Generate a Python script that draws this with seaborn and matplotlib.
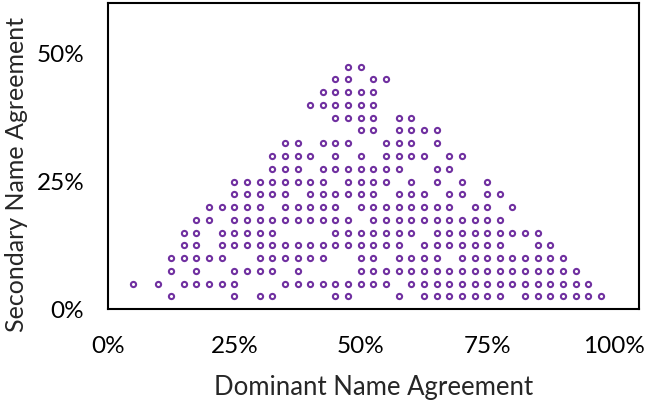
import pandas as pd
import numpy as np
import matplotlib.pyplot as plt
import seaborn as sns
from matplotlib.ticker import PercentFormatter

# dominant name agreement (%) for each secondary agreement level (%)
sec_2_5 = [12.5, 25, 30, 32.5, 45, 47.5, 57.5, 62.5, 65, 67.5, 70, 72.5, 75, 77.5, 82.5, 85, 87.5, 90, 92.5, 95, 97.5]
sec_5_0 = [5, 10, 15, 17.5, 20, 22.5, 25, 35, 37.5, 40, 42.5, 45, 47.5, 50, 52.5, 55, 60, 62.5, 65, 67.5, 70, 72.5, 75, 77.5, 80, 82.5, 85, 87.5, 90, 92.5, 95]
sec_7_5 = [12.5, 17.5, 25, 27.5, 30, 32.5, 37.5, 50, 52.5, 55, 57.5, 60, 62.5, 65, 67.5, 70, 72.5, 75, 77.5, 80, 82.5, 85, 87.5, 90, 92.5]
sec_10_0 = [12.5, 15, 17.5, 20, 22.5, 30, 32.5, 35, 37.5, 40, 42.5, 50, 52.5, 57.5, 60, 62.5, 65, 70, 72.5, 75, 77.5, 80, 82.5, 85, 87.5, 90]
sec_12_5 = [15, 17.5, 22.5, 25, 27.5, 30, 32.5, 35, 37.5, 40, 42.5, 45, 47.5, 50, 52.5, 55, 57.5, 62.5, 65, 67.5, 70, 72.5, 75, 77.5, 85, 87.5]
sec_15_0 = [15, 17.5, 22.5, 25, 27.5, 30, 32.5, 45, 47.5, 50, 52.5, 55, 57.5, 60, 65, 67.5, 70, 72.5, 75, 77.5, 80, 82.5, 85]
sec_17_5 = [17.5, 20, 25, 27.5, 30, 32.5, 35, 37.5, 40, 42.5, 45, 47.5, 52.5, 55, 57.5, 60, 62.5, 65, 67.5, 70, 72.5, 75, 77.5]
sec_20_0 = [20, 22.5, 25, 27.5, 30, 35, 37.5, 40, 42.5, 45, 50, 52.5, 55, 57.5, 60, 62.5, 65, 67.5, 72.5, 75, 80]
sec_22_5 = [25, 27.5, 30, 32.5, 35, 40, 42.5, 45, 47.5, 50, 52.5, 57.5, 60, 62.5, 67.5, 70, 75, 77.5]
sec_25_0 = [25, 27.5, 30, 32.5, 35, 37.5, 40, 42.5, 47.5, 50, 52.5, 55, 60, 65, 70, 75]
sec_27_5 = [32.5, 35, 37.5, 42.5, 45, 47.5, 50, 52.5, 55, 57.5, 65, 67.5]
sec_30_0 = [32.5, 35, 37.5, 40, 45, 50, 55, 57.5, 60, 62.5, 67.5, 70]
sec_32_5 = [35, 37.5, 42.5, 45, 47.5, 55, 57.5, 60, 65]
sec_35_0 = [50, 52.5, 57.5, 60, 62.5, 65]
sec_37_5 = [45, 47.5, 50, 52.5, 57.5, 60]
sec_40_0 = [40, 42.5, 45, 47.5, 50, 52.5]
sec_42_5 = [42.5, 45, 47.5, 50, 52.5]
sec_45_0 = [45, 47.5, 52.5, 55]
sec_47_5 = [47.5, 50]

levels = [2.5, 5, 7.5, 10, 12.5, 15, 17.5, 20, 22.5, 25, 27.5, 30, 32.5, 35, 37.5, 40, 42.5, 45, 47.5]
rows = [sec_2_5, sec_5_0, sec_7_5, sec_10_0, sec_12_5, sec_15_0, sec_17_5, sec_20_0, sec_22_5, sec_25_0,
        sec_27_5, sec_30_0, sec_32_5, sec_35_0, sec_37_5, sec_40_0, sec_42_5, sec_45_0, sec_47_5]

df = pd.DataFrame({
    'dominant': np.concatenate(rows) / 100,
    'secondary': np.concatenate([[lv] * len(r) for lv, r in zip(levels, rows)]) / 100,
})

sns.set_style('white')
plt.rcParams['font.family'] = ['Lato', 'DejaVu Sans']

fig = plt.figure(figsize=(6.46, 4.01), dpi=100)
ax = fig.add_axes([0.167, 0.229, 0.822, 0.764])

sns.scatterplot(data=df, x='dominant', y='secondary', ax=ax, marker='o', s=14,
                facecolor='white', edgecolor='#7030A0', linewidth=1.5)

ax.set_xlim(0, 1.05)
ax.set_ylim(0, 0.6)
ax.set_xticks([0, 0.25, 0.5, 0.75, 1.0])
ax.set_yticks([0, 0.25, 0.5])
ax.xaxis.set_major_formatter(PercentFormatter(1.0, decimals=0))
ax.yaxis.set_major_formatter(PercentFormatter(1.0, decimals=0))
ax.tick_params(direction='in', length=6, width=1.5, labelsize=17.5, colors='black')
ax.tick_params(axis='y', pad=17)
ax.tick_params(axis='x', pad=19)

for sp in ax.spines.values():
    sp.set_visible(True)
    sp.set_color('black')
    sp.set_linewidth(1.5)

ax.set_xlabel('Dominant Name Agreement', fontsize=18.5, labelpad=13)
ax.set_ylabel('Secondary Name Agreement', fontsize=18)
ax.yaxis.set_label_coords(-0.151, 0.44)

fig.savefig('out.png', dpi=100)
